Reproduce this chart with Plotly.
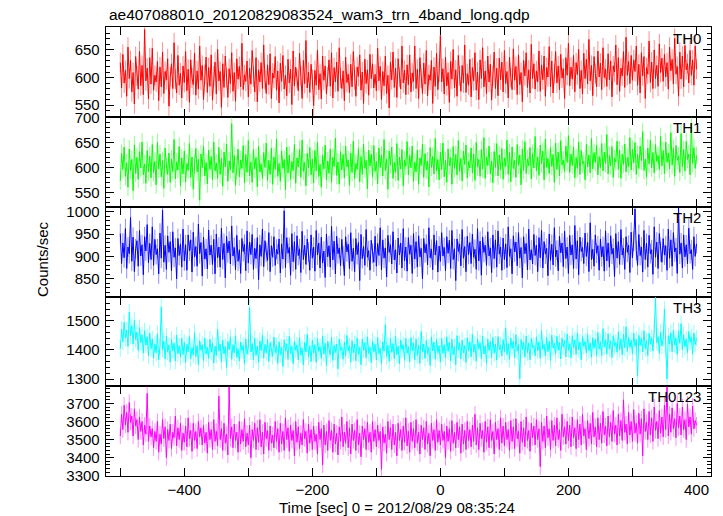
import plotly.graph_objects as go

# ---------------- data (2-s samples, t = -500 ... 400) ----------------
t_start = -500
t_step = 2

th0 = [627, 581, 642, 590, 613, 566, 655, 598, 631, 574, 609, 552, 638, 603, 579, 648, 585, 622, 569, 687, 594, 617, 561, 636, 588,
       653, 577, 604, 592, 629, 558, 619, 583, 646, 571, 611, 596, 634, 548, 601, 625, 580, 663, 597, 572, 640, 586, 608, 563, 621,
       591, 647, 576, 615, 555, 632, 599, 587, 644, 568, 612, 579, 657, 595, 622, 560, 606, 637, 573, 618, 584, 641, 559, 603, 628,
       570, 651, 594, 611, 546, 625, 582, 639, 600, 564, 616, 589, 645, 575, 609, 557, 634, 597, 620, 583, 662, 578, 605, 593, 630,
       565, 617, 588, 649, 601, 574, 636, 556, 614, 592, 627, 580, 659, 596, 571, 623, 587, 643, 562, 608, 599, 638, 577, 612, 554,
       626, 593, 640, 579, 604, 567, 633, 590, 615, 551, 648, 585, 619, 598, 576, 644, 603, 562, 631, 589, 667, 581, 610, 573, 624,
       597, 549, 613, 586, 650, 578, 607, 561, 639, 595, 621, 570, 601, 632, 584, 645, 563, 618, 592, 628, 575, 654, 599, 580, 612,
       558, 637, 591, 606, 572, 624, 583, 647, 596, 566, 619, 602, 641, 577, 610, 553, 633, 589, 614, 568, 642, 598, 625, 581, 606,
       576, 653, 594, 620, 560, 611, 585, 639, 571, 604, 545, 628, 596, 646, 582, 617, 564, 634, 600, 579, 657, 590, 613, 569, 623,
       587, 641, 574, 608, 593, 657, 580, 615, 562, 636, 599, 571, 626, 588, 649, 567, 605, 595, 631, 553, 619, 584, 644, 578, 610,
       676, 592, 616, 570, 637, 585, 609, 555, 629, 597, 651, 581, 614, 566, 640, 603, 575, 622, 590, 659, 573, 607, 586, 633, 565,
       618, 594, 645, 577, 610, 560, 632, 598, 654, 583, 612, 571, 639, 592, 624, 559, 603, 646, 580, 617, 567, 635, 596, 628, 574,
       649, 589, 611, 563, 637, 600, 578, 652, 595, 620, 569, 641, 587, 609, 556, 631, 603, 645, 582, 614, 572, 660, 598, 625, 579,
       612, 592, 648, 575, 623, 596, 639, 566, 618, 601, 656, 583, 630, 572, 607, 647, 590, 621, 578, 642, 599, 616, 562, 636, 604,
       662, 585, 619, 597, 640, 574, 627, 605, 651, 580, 613, 570, 644, 598, 633, 588, 669, 594, 622, 567, 638, 607, 583, 648, 601,
       626, 578, 654, 600, 615, 584, 643, 596, 630, 565, 621, 610, 659, 587, 636, 575, 617, 603, 647, 582, 673, 604, 629, 589, 640,
       595, 632, 611, 657, 586, 624, 572, 645, 603, 638, 562, 618, 606, 666, 591, 628, 580, 650, 598, 622, 584, 661, 609, 635, 593,
       642, 601, 627, 579, 655, 612, 633, 588, 671, 606, 620, 566, 646, 597, 639, 583, 658, 614, 625, 590, 649, 604, 632, 586, 657,
       615]

th1 = [573, 628, 596, 641, 582, 609, 560, 637, 594, 616, 553, 645, 588, 620, 576, 632, 599, 651, 585, 607, 568, 634, 591, 623, 579,
       646, 590, 612, 565, 650, 597, 627, 581, 614, 558, 639, 603, 586, 629, 570, 617, 592, 656, 577, 611, 595, 642, 563, 619, 587,
       633, 571, 608, 594, 648, 580, 621, 556, 606, 638, 591, 616, 534, 627, 599, 643, 583, 610, 567, 635, 596, 622, 575, 651, 593,
       609, 578, 640, 586, 618, 562, 631, 601, 647, 572, 613, 595, 688, 589, 624, 564, 605, 637, 581, 615, 598, 644, 569, 626, 590,
       654, 583, 611, 570, 636, 597, 620, 561, 642, 591, 607, 578, 630, 600, 649, 574, 614, 586, 639, 566, 621, 596, 657, 582, 608,
       572, 633, 598, 616, 555, 641, 589, 625, 576, 612, 594, 646, 568, 619, 601, 636, 580, 655, 592, 610, 563, 628, 599, 640, 585,
       617, 569, 634, 593, 650, 582, 606, 560, 624, 597, 645, 575, 613, 588, 637, 570, 620, 602, 659, 584, 611, 566, 632, 595, 626,
       579, 643, 601, 615, 564, 629, 590, 653, 577, 608, 596, 638, 571, 622, 586, 647, 598, 614, 557, 635, 603, 627, 581, 644, 592,
       612, 567, 639, 600, 625, 583, 656, 594, 617, 556, 633, 605, 641, 578, 610, 590, 648, 574, 621, 597, 636, 563, 615, 602, 652,
       585, 624, 599, 643, 572, 611, 591, 635, 566, 619, 604, 647, 580, 628, 595, 613, 561, 640, 600, 622, 587, 658, 593, 616, 575,
       631, 596, 649, 581, 614, 570, 637, 603, 620, 566, 642, 598, 626, 585, 654, 592, 618, 573, 633, 606, 645, 579, 612, 599, 639,
       589, 627, 574, 650, 601, 616, 582, 636, 597, 660, 578, 621, 604, 643, 587, 613, 569, 632, 600, 648, 583, 625, 595, 638, 576,
       619, 602, 655, 586, 630, 571, 641, 598, 614, 580, 646, 605, 625, 565, 637, 594, 652, 588, 617, 603, 640, 577, 628, 599, 662,
       593, 621, 584, 645, 607, 633, 575, 657, 600, 618, 588, 640, 602, 626, 570, 649, 596, 631, 583, 654, 605, 615, 592, 643, 610,
       664, 590, 627, 604, 641, 579, 620, 598, 651, 586, 634, 607, 612, 575, 646, 601, 625, 589, 658, 597, 630, 610, 645, 585, 622,
       600, 648, 593, 631, 608, 666, 587, 624, 603, 642, 580, 618, 611, 653, 596, 635, 578, 627, 606, 647, 591, 620, 602, 660, 595,
       637, 609, 650, 586, 626, 598, 643, 613, 672, 594, 617, 581, 639, 607, 655, 599, 630, 589, 646, 612, 624, 596, 662, 603, 634,
       588, 651, 610, 629, 597, 670, 605, 638, 582, 644, 614, 623, 590, 668, 601, 636, 593, 652, 616, 627, 585, 688, 608, 640, 598,
       624]

th2 = [951, 884, 930, 897, 962, 873, 921, 906, 987, 889, 943, 866, 917, 935, 878, 958, 901, 926, 859, 944, 912, 971, 886, 929, 893,
       966, 880, 938, 904, 917, 861, 952, 896, 1003, 887, 925, 871, 946, 909, 933, 868, 955, 898, 919, 850, 940, 902, 928, 876, 961,
       890, 926, 869, 948, 912, 937, 865, 954, 899, 922, 878, 972, 906, 931, 856, 943, 894, 917, 872, 959, 903, 925, 882, 938, 861,
       950, 897, 921, 876, 963, 893, 929, 852, 945, 908, 934, 883, 968, 901, 920, 870, 947, 889, 915, 862, 940, 911, 927, 868, 957,
       885, 932, 904, 949, 871, 918, 895, 942, 848, 926, 900, 961, 877, 935, 909, 891, 953, 866, 924, 898, 944, 880, 916, 905, 939,
       863, 928, 894, 1002, 875, 942, 907, 920, 858, 951, 888, 933, 871, 946, 902, 917, 864, 956, 893, 925, 882, 939, 910, 869, 948,
       896, 921, 867, 958, 903, 930, 874, 943, 885, 912, 853, 950, 899, 924, 876, 967, 892, 934, 861, 945, 906, 919, 879, 938, 901,
       857, 944, 910, 927, 872, 953, 889, 918, 866, 940, 904, 931, 846, 949, 895, 922, 880, 960, 898, 913, 869, 936, 907, 887, 945,
       878, 929, 902, 964, 870, 937, 896, 919, 854, 947, 909, 926, 883, 955, 892, 915, 863, 941, 903, 930, 874, 962, 890, 921, 867,
       942, 905, 925, 862, 951, 894, 933, 876, 946, 899, 918, 850, 940, 908, 927, 881, 964, 897, 916, 870, 948, 903, 935, 865, 923,
       889, 953, 901, 920, 868, 944, 907, 936, 873, 958, 893, 917, 846, 939, 911, 928, 879, 960, 896, 922, 866, 945, 904, 931, 884,
       950, 898, 916, 871, 962, 890, 934, 858, 943, 909, 925, 880, 955, 901, 919, 864, 948, 895, 937, 876, 957, 905, 921, 869, 941,
       893, 928, 875, 966, 900, 917, 861, 946, 910, 932, 879, 953, 896, 920, 852, 944, 906, 929, 870, 961, 892, 915, 883, 949, 902,
       925, 866, 942, 897, 958, 874, 933, 905, 918, 857, 950, 891, 927, 881, 964, 899, 914, 868, 945, 908, 930, 877, 956, 895, 921,
       862, 947, 903, 926, 873, 969, 894, 935, 859, 943, 911, 920, 884, 952, 900, 931, 866, 975, 893, 916, 878, 948, 907, 924, 869,
       939, 899, 922, 867, 957, 890, 930, 876, 946, 905, 918, 855, 951, 896, 933, 882, 960, 903, 919, 871, 944, 909, 925, 864, 954,
       897, 934, 1006, 913, 880, 949, 902, 921, 865, 958, 893, 929, 876, 947, 906, 915, 860, 966, 898, 932, 873, 951, 910, 887, 940,
       903, 924, 869, 961, 896, 937, 878, 953, 910, 919, 862, 1008, 905, 930, 874, 948, 899, 926, 883, 963, 906, 915, 871, 944, 900,
       928]

th3 = [1405, 1472, 1428, 1495, 1441, 1468, 1412, 1530, 1449, 1483, 1420, 1502, 1436, 1461, 1398, 1477, 1425, 1452, 1389, 1466, 1417, 1445, 1380, 1458, 1404,
       1438, 1372, 1421, 1390, 1455, 1366, 1412, 1548, 1401, 1430, 1369, 1447, 1393, 1416, 1358, 1436, 1397, 1423, 1362, 1451, 1388, 1414, 1375, 1440, 1384,
       1426, 1357, 1419, 1394, 1446, 1369, 1407, 1383, 1460, 1377, 1415, 1350, 1432, 1399, 1418, 1363, 1441, 1386, 1409, 1371, 1437, 1392, 1424, 1355, 1413,
       1381, 1471, 1396, 1420, 1359, 1434, 1387, 1411, 1340, 1429, 1401, 1443, 1368, 1418, 1390, 1449, 1374, 1405, 1362, 1427, 1398, 1416, 1352, 1438, 1385,
       1410, 1545, 1393, 1422, 1366, 1440, 1381, 1413, 1357, 1431, 1397, 1451, 1372, 1419, 1389, 1436, 1361, 1425, 1402, 1378, 1444, 1391, 1415, 1354, 1428,
       1384, 1409, 1343, 1435, 1396, 1421, 1367, 1447, 1388, 1412, 1353, 1430, 1399, 1417, 1365, 1442, 1382, 1406, 1348, 1426, 1393, 1453, 1376, 1414, 1360,
       1433, 1389, 1418, 1357, 1439, 1395, 1411, 1371, 1448, 1386, 1423, 1346, 1429, 1402, 1383, 1444, 1364, 1416, 1392, 1420, 1335, 1436, 1398, 1409, 1368,
       1427, 1380, 1450, 1397, 1414, 1358, 1432, 1390, 1421, 1363, 1441, 1385, 1408, 1349, 1437, 1399, 1425, 1372, 1445, 1388, 1410, 1356, 1431, 1394, 1419,
       1366, 1443, 1387, 1406, 1351, 1428, 1396, 1487, 1378, 1416, 1361, 1439, 1392, 1422, 1370, 1447, 1384, 1413, 1352, 1434, 1401, 1418, 1364, 1440, 1389,
       1411, 1359, 1442, 1398, 1424, 1365, 1438, 1381, 1417, 1354, 1463, 1393, 1420, 1371, 1433, 1387, 1409, 1347, 1445, 1396, 1427, 1368, 1436, 1391, 1414,
       1358, 1440, 1388, 1418, 1372, 1445, 1395, 1426, 1362, 1437, 1384, 1411, 1350, 1449, 1400, 1423, 1369, 1434, 1390, 1415, 1357, 1441, 1397, 1428, 1376,
       1454, 1392, 1419, 1361, 1438, 1403, 1425, 1370, 1448, 1386, 1414, 1353, 1437, 1398, 1429, 1374, 1443, 1389, 1420, 1365, 1446, 1401, 1417, 1379, 1435,
       1393, 1476, 1384, 1422, 1368, 1441, 1405, 1430, 1372, 1452, 1396, 1418, 1300, 1436, 1401, 1427, 1375, 1448, 1391, 1424, 1366, 1439, 1407, 1415, 1380,
       1445, 1397, 1428, 1371, 1466, 1402, 1419, 1379, 1443, 1394, 1430, 1362, 1451, 1406, 1423, 1385, 1447, 1399, 1426, 1369, 1440, 1410, 1432, 1376, 1455,
       1399, 1421, 1373, 1449, 1408, 1434, 1384, 1458, 1401, 1427, 1366, 1446, 1412, 1429, 1389, 1453, 1397, 1424, 1375, 1442, 1405, 1437, 1381, 1460, 1403,
       1428, 1380, 1473, 1410, 1435, 1386, 1456, 1404, 1431, 1374, 1449, 1413, 1426, 1392, 1462, 1401, 1438, 1383, 1454, 1407, 1480, 1395, 1444, 1409, 1433,
       1387, 1458, 1412, 1436, 1310, 1450, 1416, 1440, 1393, 1466, 1405, 1432, 1381, 1457, 1420, 1442, 1397, 1470, 1580, 1425, 1446, 1389, 1461, 1414, 1438,
       1540, 1402, 1300, 1449, 1421, 1459, 1394, 1467, 1417, 1441, 1385, 1465, 1423, 1490, 1400, 1452, 1411, 1437, 1391, 1463, 1426, 1445, 1386, 1458, 1419,
       1440]

th0123 = [3520, 3640, 3555, 3690, 3580, 3650, 3540, 3705, 3595, 3630, 3520, 3670, 3575, 3610, 3500, 3625, 3545, 3600, 3470, 3580, 3530, 3755, 3490, 3575, 3515,
          3560, 3455, 3545, 3490, 3600, 3430, 3530, 3475, 3610, 3505, 3570, 3400, 3555, 3495, 3585, 3450, 3540, 3510, 3630, 3465, 3565, 3500, 3590, 3440, 3535,
          3485, 3575, 3460, 3620, 3505, 3550, 3435, 3590, 3495, 3545, 3450, 3600, 3515, 3565, 3470, 3580, 3480, 3540, 3425, 3595, 3500, 3555, 3445, 3610, 3490,
          3545, 3465, 3740, 3500, 3560, 3440, 3590, 3480, 3530, 3415, 3790, 3505, 3570, 3455, 3585, 3495, 3540, 3430, 3600, 3475, 3555, 3490, 3615, 3460, 3535,
          3470, 3580, 3400, 3555, 3495, 3590, 3445, 3565, 3485, 3610, 3460, 3540, 3420, 3595, 3505, 3550, 3440, 3575, 3480, 3525, 3455, 3600, 3490, 3560, 3430,
          3590, 3475, 3545, 3440, 3620, 3500, 3565, 3435, 3580, 3495, 3550, 3410, 3600, 3485, 3570, 3450, 3535, 3470, 3610, 3505, 3545, 3425, 3585, 3480, 3555,
          3445, 3575, 3490, 3530, 3420, 3595, 3500, 3560, 3360, 3580, 3470, 3545, 3440, 3605, 3495, 3550, 3430, 3585, 3475, 3535, 3415, 3570, 3490, 3625, 3460,
          3540, 3480, 3600, 3455, 3565, 3420, 3585, 3495, 3550, 3440, 3610, 3470, 3535, 3405, 3575, 3500, 3560, 3445, 3595, 3485, 3540, 3430, 3600, 3490, 3555,
          3460, 3580, 3495, 3545, 3335, 3570, 3480, 3530, 3425, 3600, 3500, 3565, 3445, 3585, 3470, 3540, 3410, 3590, 3495, 3555, 3440, 3575, 3485, 3620, 3465,
          3545, 3430, 3595, 3490, 3560, 3455, 3610, 3480, 3540, 3420, 3580, 3500, 3565, 3445, 3600, 3475, 3535, 3410, 3590, 3495, 3555, 3440, 3610, 3485, 3550,
          3470, 3585, 3495, 3545, 3400, 3575, 3490, 3560, 3435, 3605, 3480, 3540, 3455, 3595, 3500, 3570, 3425, 3585, 3475, 3550, 3445, 3600, 3495, 3555, 3460,
          3580, 3490, 3640, 3470, 3565, 3445, 3590, 3505, 3550, 3430, 3600, 3485, 3570, 3455, 3610, 3495, 3545, 3420, 3595, 3500, 3560, 3445, 3620, 3480, 3575,
          3465, 3595, 3500, 3555, 3440, 3605, 3490, 3570, 3450, 3615, 3505, 3545, 3425, 3600, 3485, 3565, 3460, 3625, 3495, 3550, 3435, 3590, 3510, 3575, 3470,
          3610, 3500, 3560, 3350, 3595, 3490, 3575, 3455, 3630, 3510, 3560, 3445, 3605, 3495, 3580, 3465, 3620, 3500, 3555, 3440, 3640, 3515, 3570, 3475, 3600,
          3495, 3580, 3460, 3625, 3510, 3565, 3450, 3610, 3500, 3585, 3470, 3640, 3520, 3560, 3445, 3605, 3505, 3590, 3475, 3650, 3515, 3570, 3460, 3620, 3500,
          3590, 3480, 3655, 3525, 3575, 3465, 3630, 3515, 3595, 3490, 3660, 3530, 3580, 3470, 3640, 3520, 3605, 3495, 3720, 3540, 3585, 3475, 3650, 3525, 3600,
          3490, 3665, 3535, 3590, 3480, 3645, 3530, 3615, 3410, 3670, 3545, 3595, 3500, 3655, 3525, 3620, 3490, 3680, 3550, 3600, 3505, 3660, 3535, 3625, 3515,
          3690, 3555, 3790, 3520, 3640, 3540, 3675, 3560, 3615, 3510, 3700, 3565, 3630, 3525, 3680, 3555, 3610, 3500, 3695, 3570, 3625, 3530, 3685, 3560, 3605,
          3580]

series_names = ["TH0", "TH1", "TH2", "TH3", "TH0123"]
series_values = [th0, th1, th2, th3, th0123]
series_errors = [18, 18, 22, 28, 45]
series_colors = ["#ff0000", "#00ff00", "#0000ff", "#00ffff", "#ff00ff"]
error_colors = ["rgba(255,0,0,0.45)", "rgba(0,255,0,0.45)", "rgba(0,0,255,0.45)",
                "rgba(0,255,255,0.45)", "rgba(255,0,255,0.45)"]
y_ranges = [[529, 691], [521, 702], [810, 1011], [1277, 1583], [3300, 3798]]
y_dticks = [50, 50, 50, 100, 100]
y_minor = [10, 10, 10, 20, 20]
x_range = [-522.8, 422.7]
x_tickvals = [-500, -400, -300, -200, -100, 0, 100, 200, 300, 400]
x_ticktext = ["", "−400", "", "−200", "", "0", "", "200", "", "400"]

title_text = "ae407088010_20120829083524_wam3_trn_4band_long.qdp"
x_title = "Time [sec] 0 = 2012/08/29 08:35:24"
y_title = "Counts/sec"

# ---------------- figure ----------------
W, H = 723, 516
FONT = "Liberation Sans, Arial, Helvetica, sans-serif"
px_x0, px_x1 = 105.7, 711.0
bounds_px = [27.3, 116.7, 206.7, 296.7, 385.7, 475.7]


def py(p):
    return 1 - p / H


fig = go.Figure()
layout = dict(
    width=W, height=H,
    margin=dict(l=0, r=0, t=0, b=0, pad=0),
    paper_bgcolor="white", plot_bgcolor="white",
    showlegend=False,
    font=dict(family=FONT, size=15, color="black"),
)

for k, (name, vals, err, col, ecol) in enumerate(zip(series_names, series_values, series_errors,
                                                    series_colors, error_colors)):
    ax = "" if k == 0 else str(k + 1)
    times = [t_start + t_step * i for i in range(len(vals))]
    fig.add_trace(go.Scatter(
        x=times, y=vals, mode="lines",
        line=dict(color=col, width=1),
        error_y=dict(type="constant", value=err, color=ecol, thickness=1, width=0),
        xaxis="x" + ax, yaxis="y" + ax, hoverinfo="skip", cliponaxis=True,
    ))
    dom = [py(bounds_px[k + 1]), py(bounds_px[k])]
    last = (k == len(series_names) - 1)
    layout["xaxis" + ax] = dict(
        domain=[px_x0 / W, px_x1 / W], anchor="y" + ax, range=x_range,
        showline=True, linecolor="black", linewidth=1, mirror="ticks",
        ticks="inside", ticklen=8, tickcolor="black", tickwidth=1,
        tickvals=x_tickvals, ticktext=x_ticktext,
        showticklabels=last, showgrid=False, zeroline=False,
        tickfont=dict(size=15), automargin=False,
    )
    layout["yaxis" + ax] = dict(
        domain=dom, anchor="x" + ax, range=y_ranges[k],
        showline=True, linecolor="black", linewidth=1, mirror="ticks",
        ticks="inside", ticklen=8, tickcolor="black", tickwidth=1,
        dtick=y_dticks[k], tick0=0,
        minor=dict(dtick=y_minor[k], ticks="inside", ticklen=4, tickcolor="black", tickwidth=1),
        showgrid=False, zeroline=False, tickfont=dict(size=15),
        ticklabelstandoff=2, automargin=False,
    )
    fig.add_annotation(
        x=703 / W, y=py(bounds_px[k] + 11), xref="paper", yref="paper",
        text=name, showarrow=False, xanchor="right", yanchor="middle",
        font=dict(size=15, family=FONT, color="black"),
    )

fig.add_annotation(x=107 / W, y=py(14), xref="paper", yref="paper", text=title_text,
                   showarrow=False, xanchor="left", yanchor="middle",
                   font=dict(size=15.5, family=FONT))
fig.add_annotation(x=397 / W, y=py(507), xref="paper", yref="paper", text=x_title,
                   showarrow=False, xanchor="center", yanchor="middle",
                   font=dict(size=15, family=FONT))
fig.add_annotation(x=42 / W, y=py(259), xref="paper", yref="paper", text=y_title,
                   showarrow=False, xanchor="center", yanchor="middle", textangle=-90,
                   font=dict(size=15, family=FONT))

fig.update_layout(**layout)
fig.write_html("out.html",
               config={"displayModeBar": False},
               post_script="document.body.style.margin='0px';document.body.style.overflow='hidden';")
